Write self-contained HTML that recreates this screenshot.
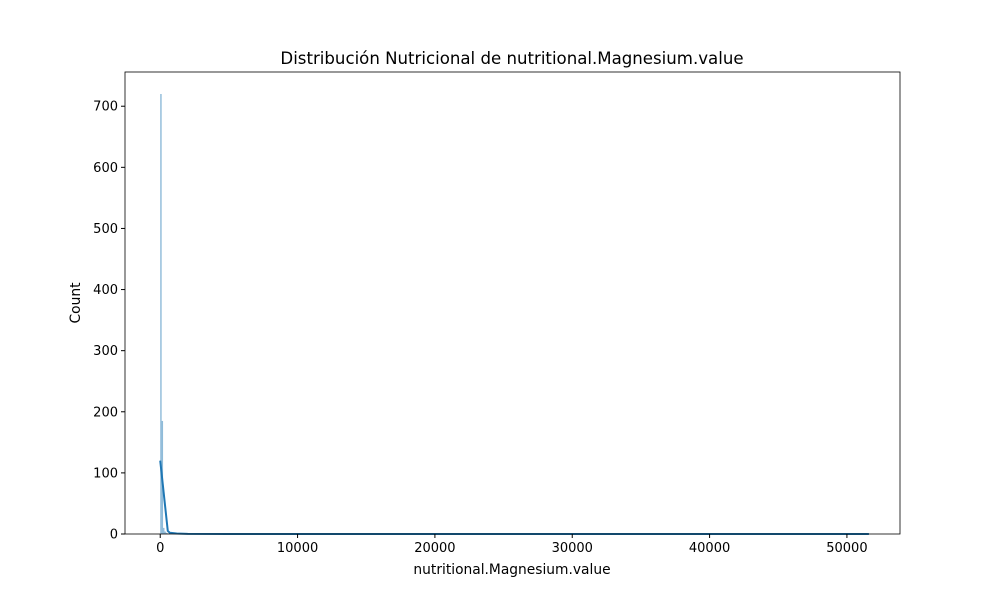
<!DOCTYPE html>
<html><head><meta charset="utf-8"><style>body{margin:0;background:#fff}svg text{font-family:"DejaVu Sans","Liberation Sans",sans-serif}</style></head>
<body>
<svg id="c" width="1000" height="600" xmlns="http://www.w3.org/2000/svg">
<rect width="1000" height="600" fill="#fff"/>
<g id="bars"></g>
<g id="kde"></g>
<rect x="125" y="72" width="775" height="462" fill="none" stroke="#000" stroke-width="0.8"/>
<g id="xt"></g>
<g id="yt"></g>
<text x="512" y="64" font-size="16.6" text-anchor="middle">Distribución Nutricional de nutritional.Magnesium.value</text>
<text x="512" y="574" font-size="13.8" text-anchor="middle">nutritional.Magnesium.value</text>
<text transform="translate(80,303) rotate(-90)" font-size="13.8" text-anchor="middle">Count</text>
</svg>
<script>
const binStart = 0;
const binWidth = 103;
const counts = [720, 185, 10, 4, 2, 1, 1, 0, 1, 0, 1];
const kdeX = [0, 550, 700, 1200, 2000, 5000, 20000, 51600];
const kdeY = [120, 5, 2, 0.8, 0.3, 0.1, 0.05, 0.02];
const xTicks = [0, 10000, 20000, 30000, 40000, 50000];
const yTicks = [0, 100, 200, 300, 400, 500, 600, 700];
const X0=125,X1=900,Y0=534,Y1=72,xmin=-2565,xmax=53865,ymax=756;
const sx=v=>X0+(v-xmin)/(xmax-xmin)*(X1-X0);
const sy=v=>Y0-v/ymax*(Y0-Y1);
const NS='http://www.w3.org/2000/svg';
const bars=document.getElementById('bars');
counts.forEach((c,i)=>{if(!c)return;
 const a=sx(binStart+i*binWidth),b=sx(binStart+(i+1)*binWidth);
 const r=document.createElementNS(NS,'rect');
 r.setAttribute('x',a);r.setAttribute('width',Math.max(b-a,0.6));
 r.setAttribute('y',sy(c));r.setAttribute('height',Y0-sy(c));
 r.setAttribute('fill','rgba(31,119,180,0.5)');
 
 
 bars.appendChild(r);});
const p=document.createElementNS(NS,'polyline');
p.setAttribute('points',kdeX.map((x,i)=>sx(x)+','+sy(kdeY[i])).join(' '));
p.setAttribute('fill','none');p.setAttribute('stroke','#1f77b4');p.setAttribute('stroke-width','2');


document.getElementById('kde').appendChild(p);
const xt=document.getElementById('xt');
xTicks.forEach(t=>{const x=sx(t);
 const l=document.createElementNS(NS,'line');l.setAttribute('x1',x);l.setAttribute('x2',x);l.setAttribute('y1',Y0);l.setAttribute('y2',Y0+4);l.setAttribute('stroke','#000');
 
 
 xt.appendChild(l);
 const s=document.createElementNS(NS,'text');s.setAttribute('x',x);s.setAttribute('y',Y0+18);s.setAttribute('font-size','13');s.setAttribute('text-anchor','middle');s.textContent=t;
 
 
 xt.appendChild(s);});
const yt=document.getElementById('yt');
yTicks.forEach(t=>{const y=sy(t);
 const l=document.createElementNS(NS,'line');l.setAttribute('x1',X0-4);l.setAttribute('x2',X0);l.setAttribute('y1',y);l.setAttribute('y2',y);l.setAttribute('stroke','#000');
 
 
 yt.appendChild(l);
 const s=document.createElementNS(NS,'text');s.setAttribute('x',X0-7);s.setAttribute('y',y+4.5);s.setAttribute('font-size','13');s.setAttribute('text-anchor','end');s.textContent=t;
 
 
 yt.appendChild(s);});
</script>
</body></html>
